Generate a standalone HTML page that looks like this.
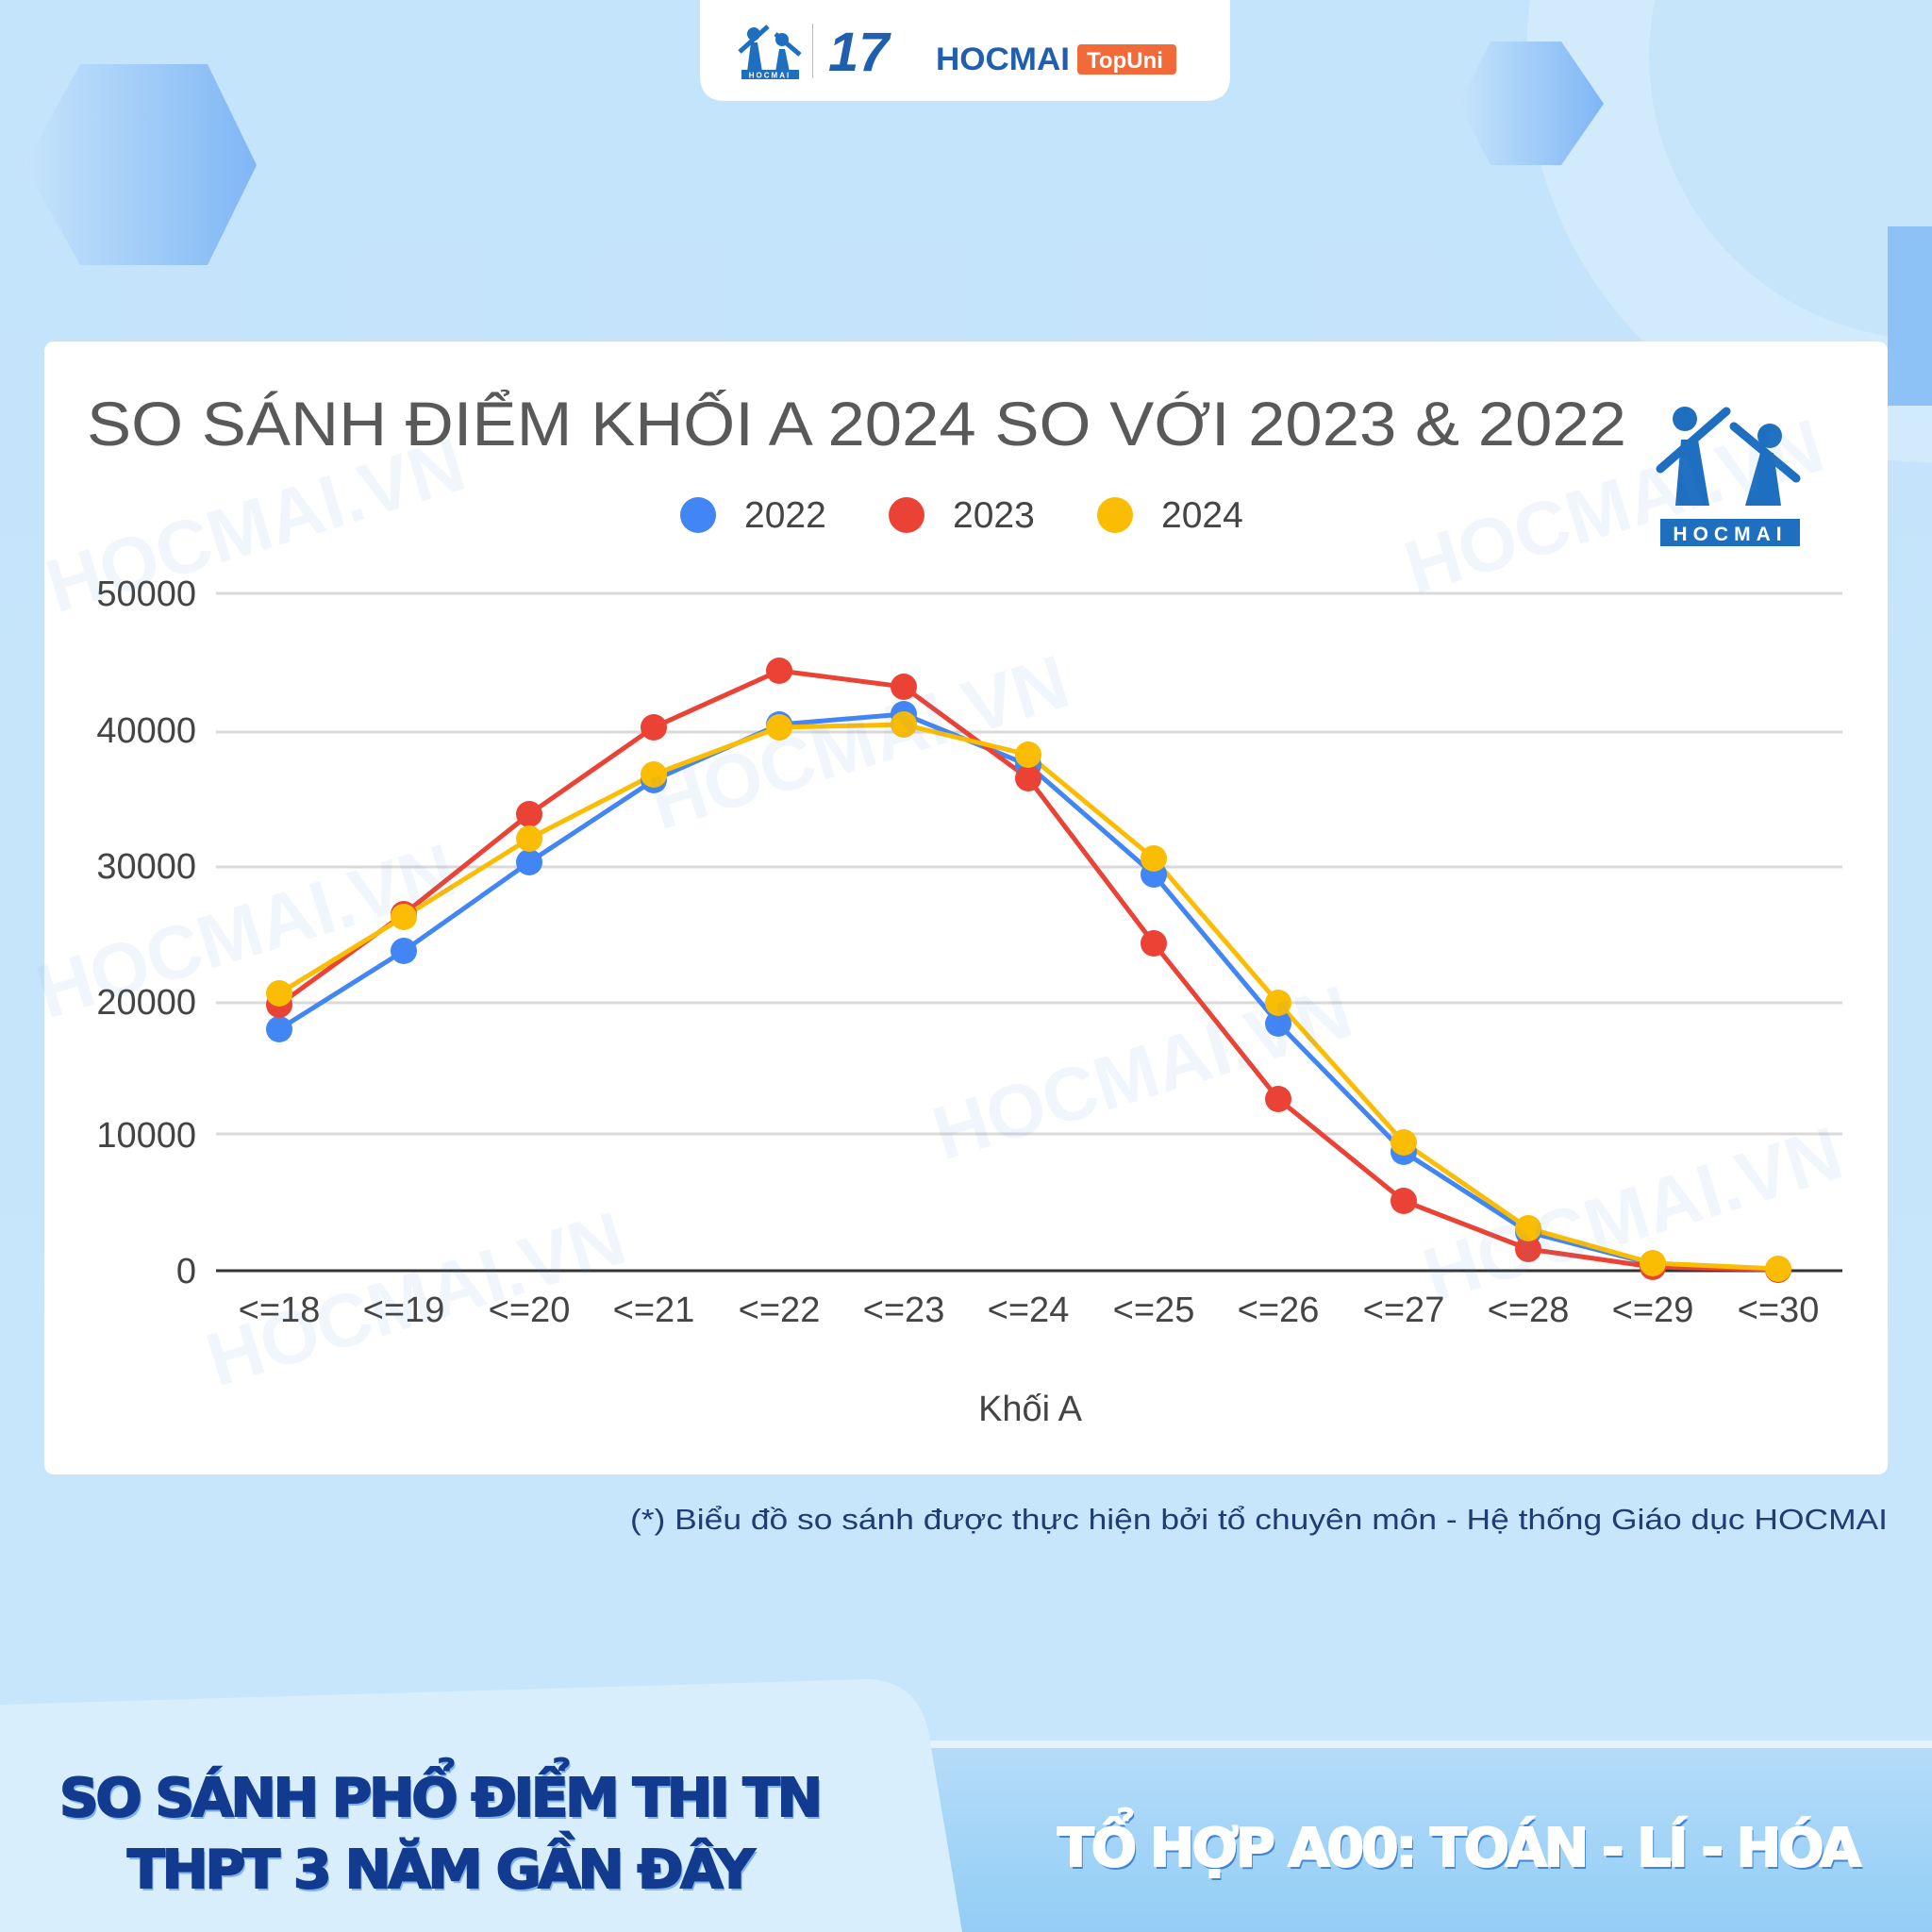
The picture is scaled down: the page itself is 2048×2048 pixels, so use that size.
<!DOCTYPE html>
<html><head><meta charset="utf-8"><style>
html,body{margin:0;padding:0;width:2048px;height:2048px;overflow:hidden;background:#c6e5fb}
</style></head><body>
<svg width="2048" height="2048" viewBox="0 0 2048 2048" xmlns="http://www.w3.org/2000/svg" font-family="Liberation Sans, DejaVu Sans, sans-serif">
<defs>
<linearGradient id="bg" x1="0" y1="0" x2="0" y2="1"><stop offset="0" stop-color="#c4e4fb"/><stop offset="1" stop-color="#c8e6fb"/></linearGradient>
<linearGradient id="hx" x1="0" y1="0" x2="1" y2="0"><stop offset="0" stop-color="#c6e4fb"/><stop offset="1" stop-color="#7fb6f5"/></linearGradient>
<linearGradient id="br" x1="0" y1="0" x2="0" y2="1"><stop offset="0" stop-color="#b6ddf8"/><stop offset="1" stop-color="#93cdf6"/></linearGradient>
</defs>
<rect width="2048" height="2048" fill="url(#bg)"/>
<circle cx="2048" cy="60" r="430" fill="#d2ebfc"/>
<circle cx="2048" cy="60" r="300" fill="#c6e5fb"/>
<rect x="2001" y="240" width="47" height="190" fill="#8cc2f6"/>
<polygon points="85,68 220,68 272,175 220,281 85,281 26,175" fill="url(#hx)"/>
<polygon points="1580,44 1655,44 1700,110 1655,175 1580,175 1547,110" fill="url(#hx)"/>
<!-- top tab -->
<path d="M742,0 H1304 V80 Q1304,107 1277,107 H769 Q742,107 742,80 Z" fill="#fff"/>
<g fill="#1f6fc0">
<circle cx="799" cy="36" r="7"/><circle cx="829" cy="42" r="7"/>
<path d="M784,55 L814,28" stroke="#1f6fc0" stroke-width="5"/><path d="M822,36 L848,58" stroke="#1f6fc0" stroke-width="5"/>
<polygon points="796,45 803,45 808,76 792,76"/><polygon points="826,52 832,52 837,76 822,76"/>
<rect x="786" y="74" width="61" height="10"/>
</g>
<text x="816" y="82.5" font-size="8" fill="#fff" text-anchor="middle" font-weight="bold" letter-spacing="2">HOCMAI</text>
<rect x="861" y="25" width="1" height="58" fill="#bbb"/>
<text x="878" y="75" font-size="58" font-weight="bold" fill="#1f5fae" font-style="italic">17</text>
<text x="992" y="74" font-size="34" font-weight="bold" fill="#1f5fae" textLength="142" lengthAdjust="spacingAndGlyphs">HOCMAI</text>
<rect x="1142" y="47" width="105" height="32" rx="4" fill="#f26a3a"/>
<text x="1152" y="72" font-size="24" font-weight="bold" fill="#fff">TopUni</text>
<!-- card -->
<rect x="47" y="362" width="1954" height="1201" rx="10" fill="#fff"/>
<text x="92" y="472" font-size="66" fill="#595959" textLength="1632" lengthAdjust="spacingAndGlyphs">SO SÁNH ĐIỂM KHỐI A 2024 SO VỚI 2023 &amp; 2022</text>
<!-- legend -->
<circle cx="740" cy="546" r="19" fill="#4285f4"/><text x="789" y="559" font-size="39" fill="#444">2022</text>
<circle cx="961" cy="546" r="19" fill="#ea4335"/><text x="1010" y="559" font-size="39" fill="#444">2023</text>
<circle cx="1182" cy="546" r="19" fill="#fbbc04"/><text x="1231" y="559" font-size="39" fill="#444">2024</text>
<!-- logo -->
<g fill="#1f6fc0">
<circle cx="1786" cy="444" r="13"/><circle cx="1876" cy="462" r="13"/>
<path d="M1760,497 L1830,436" stroke="#1f6fc0" stroke-width="9" stroke-linecap="round"/>
<path d="M1838,452 L1904,507" stroke="#1f6fc0" stroke-width="9" stroke-linecap="round"/>
<polygon points="1782,466 1800,466 1812,536 1776,536"/>
<polygon points="1866,480 1880,480 1888,536 1850,536"/>
<rect x="1760" y="550" width="148" height="29"/>
</g>
<text x="1834" y="573" font-size="21" font-weight="bold" fill="#fff" text-anchor="middle" letter-spacing="6">HOCMAI</text>
<!-- grid -->
<g stroke="#d9d9d9" stroke-width="3">
<line x1="229" y1="629" x2="1953" y2="629"/><line x1="229" y1="776" x2="1953" y2="776"/>
<line x1="229" y1="919" x2="1953" y2="919"/><line x1="229" y1="1063" x2="1953" y2="1063"/>
<line x1="229" y1="1202" x2="1953" y2="1202"/>
</g>
<line x1="229" y1="1347" x2="1953" y2="1347" stroke="#333" stroke-width="3"/>
<g font-size="38" fill="#444" text-anchor="end">
<text x="208" y="642">50000</text><text x="208" y="787">40000</text><text x="208" y="931">30000</text>
<text x="208" y="1075">20000</text><text x="208" y="1216">10000</text><text x="208" y="1360">0</text>
</g>
<g font-size="38" fill="#444" text-anchor="middle">
<text x="296" y="1401">&lt;=18</text><text x="428" y="1401">&lt;=19</text><text x="561" y="1401">&lt;=20</text>
<text x="693" y="1401">&lt;=21</text><text x="826" y="1401">&lt;=22</text><text x="958" y="1401">&lt;=23</text>
<text x="1090" y="1401">&lt;=24</text><text x="1223" y="1401">&lt;=25</text><text x="1355" y="1401">&lt;=26</text>
<text x="1488" y="1401">&lt;=27</text><text x="1620" y="1401">&lt;=28</text><text x="1752" y="1401">&lt;=29</text>
<text x="1885" y="1401">&lt;=30</text>
<text x="1092" y="1506">Khối A</text>
</g>
<!-- series -->
<g fill="none" stroke-width="5" stroke-linejoin="round">
<polyline stroke="#4285f4" points="296,1091 428,1008 561,914 693,827 826,768 958,757 1090,811 1223,927 1355,1085 1488,1221 1620,1306 1752,1340 1885,1346"/>
<polyline stroke="#ea4335" points="296,1065 428,969 561,863 693,771 826,711 958,728 1090,825 1223,1000 1355,1165 1488,1273 1620,1324 1752,1343 1885,1346"/>
<polyline stroke="#fbbc04" points="296,1053 428,972 561,889 693,821 826,771 958,768 1090,800 1223,910 1355,1063 1488,1211 1620,1302 1752,1339 1885,1345"/>
</g>
<g fill="#4285f4">
<circle cx="296" cy="1091" r="14"/><circle cx="428" cy="1008" r="14"/><circle cx="561" cy="914" r="14"/><circle cx="693" cy="827" r="14"/><circle cx="826" cy="768" r="14"/><circle cx="958" cy="757" r="14"/><circle cx="1090" cy="811" r="14"/><circle cx="1223" cy="927" r="14"/><circle cx="1355" cy="1085" r="14"/><circle cx="1488" cy="1221" r="14"/><circle cx="1620" cy="1306" r="14"/><circle cx="1752" cy="1340" r="14"/><circle cx="1885" cy="1346" r="14"/>
</g>
<g fill="#ea4335">
<circle cx="296" cy="1065" r="14"/><circle cx="428" cy="969" r="14"/><circle cx="561" cy="863" r="14"/><circle cx="693" cy="771" r="14"/><circle cx="826" cy="711" r="14"/><circle cx="958" cy="728" r="14"/><circle cx="1090" cy="825" r="14"/><circle cx="1223" cy="1000" r="14"/><circle cx="1355" cy="1165" r="14"/><circle cx="1488" cy="1273" r="14"/><circle cx="1620" cy="1324" r="14"/><circle cx="1752" cy="1343" r="14"/><circle cx="1885" cy="1346" r="14"/>
</g>
<g fill="#fbbc04">
<circle cx="296" cy="1053" r="14"/><circle cx="428" cy="972" r="14"/><circle cx="561" cy="889" r="14"/><circle cx="693" cy="821" r="14"/><circle cx="826" cy="771" r="14"/><circle cx="958" cy="768" r="14"/><circle cx="1090" cy="800" r="14"/><circle cx="1223" cy="910" r="14"/><circle cx="1355" cy="1063" r="14"/><circle cx="1488" cy="1211" r="14"/><circle cx="1620" cy="1302" r="14"/><circle cx="1752" cy="1339" r="14"/><circle cx="1885" cy="1345" r="14"/>
</g>
<!-- watermarks -->
<g fill="#4a90d9" fill-opacity="0.08" font-size="80" font-weight="bold">
<text transform="translate(60,650) rotate(-17)">HOCMAI.VN</text>
<text transform="translate(700,880) rotate(-17)">HOCMAI.VN</text>
<text transform="translate(1000,1230) rotate(-17)">HOCMAI.VN</text>
<text transform="translate(230,1470) rotate(-17)">HOCMAI.VN</text>
<text transform="translate(1520,1380) rotate(-17)">HOCMAI.VN</text>
<text transform="translate(1500,630) rotate(-17)">HOCMAI.VN</text>
<text transform="translate(50,1080) rotate(-17)">HOCMAI.VN</text>
</g>
<text x="668" y="1621" font-size="31" fill="#1e3d73" textLength="1333" lengthAdjust="spacingAndGlyphs">(*) Biểu đồ so sánh được thực hiện bởi tổ chuyên môn - Hệ thống Giáo dục HOCMAI</text>
<!-- bottom -->
<rect x="980" y="1845" width="1068" height="203" fill="url(#br)"/>
<rect x="980" y="1845" width="1068" height="8" fill="#e4f3fd"/>
<path d="M0,1807 L920,1780 Q975,1782 985,1840 L1020,2048 L0,2048 Z" fill="#d8eefd"/>
<g font-family="DejaVu Sans, Liberation Sans, sans-serif" font-weight="bold" font-size="56" letter-spacing="-3">
<text x="65" y="1928" fill="#7fb0f0" textLength="806" lengthAdjust="spacingAndGlyphs">SO SÁNH PHỔ ĐIỂM THI TN</text>
<text x="63" y="1925" fill="#123a8f" stroke="#123a8f" stroke-width="2" textLength="806" lengthAdjust="spacingAndGlyphs">SO SÁNH PHỔ ĐIỂM THI TN</text>
<text x="137" y="2004" fill="#7fb0f0" textLength="662" lengthAdjust="spacingAndGlyphs">THPT 3 NĂM GẦN ĐÂY</text>
<text x="135" y="2001" fill="#123a8f" stroke="#123a8f" stroke-width="2" textLength="662" lengthAdjust="spacingAndGlyphs">THPT 3 NĂM GẦN ĐÂY</text>
<text x="1123" y="1981" fill="#3f86d8" textLength="849" lengthAdjust="spacingAndGlyphs">TỔ HỢP A00: TOÁN - LÍ - HÓA</text>
<text x="1121" y="1978" fill="#fff" stroke="#fff" stroke-width="2" textLength="849" lengthAdjust="spacingAndGlyphs">TỔ HỢP A00: TOÁN - LÍ - HÓA</text>
</g>
</svg>
</body></html>
